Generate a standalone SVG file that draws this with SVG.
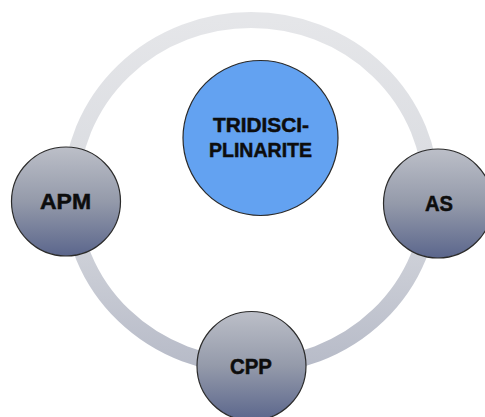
<svg xmlns="http://www.w3.org/2000/svg" width="485" height="417" viewBox="0 0 485 417">
  <defs>
    <linearGradient id="ringGrad" x1="0" y1="0" x2="0" y2="1">
      <stop offset="0" stop-color="#e5e6e9"/>
      <stop offset="0.5" stop-color="#d9dbe0"/>
      <stop offset="1" stop-color="#b7bbc8"/>
    </linearGradient>
    <linearGradient id="nodeGrad" x1="0" y1="0" x2="0" y2="1">
      <stop offset="0" stop-color="#bcbfc8"/>
      <stop offset="0.5" stop-color="#949aaa"/>
      <stop offset="1" stop-color="#5b668c"/>
    </linearGradient>
    <style>
      .node { fill: url(#nodeGrad); stroke: #2b2b2b; stroke-width: 1.2; }
      .center { fill: #63a2f1; stroke: #2b2b2b; stroke-width: 1.2; }
      .lbl { font-family: "Liberation Sans", Arial, sans-serif; font-weight: bold; fill: #0d0d0d; stroke: #0d0d0d; stroke-width: 0.5; text-anchor: middle; }
    </style>
  </defs>
  <rect width="485" height="417" fill="#ffffff"/>
  <g id="connectors">
    <ellipse cx="251" cy="193" rx="180" ry="173" fill="none" stroke="url(#ringGrad)" stroke-width="16"/>
  </g>
  <g id="center">
    <circle class="center" cx="260.5" cy="138" r="77.5"/>
    <text class="lbl" x="261" y="132" font-size="21" textLength="96" lengthAdjust="spacingAndGlyphs">TRIDISCI-</text>
    <text class="lbl" x="260.5" y="157" font-size="21" textLength="103" lengthAdjust="spacingAndGlyphs">PLINARITE</text>
  </g>
  <g id="apm">
    <circle class="node" cx="66" cy="201.5" r="54.5"/>
    <text class="lbl" x="65.5" y="209" font-size="22" textLength="51" lengthAdjust="spacingAndGlyphs">APM</text>
  </g>
  <g id="as">
    <circle class="node" cx="438" cy="203.5" r="54.5"/>
    <text class="lbl" x="439" y="211" font-size="22" textLength="28" lengthAdjust="spacingAndGlyphs">AS</text>
  </g>
  <g id="cpp">
    <circle class="node" cx="251.5" cy="366" r="54.5"/>
    <text class="lbl" x="251" y="374" font-size="22" textLength="42" lengthAdjust="spacingAndGlyphs">CPP</text>
  </g>
</svg>
